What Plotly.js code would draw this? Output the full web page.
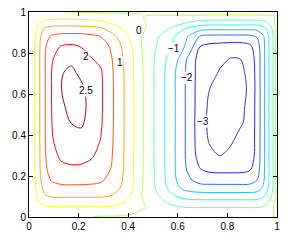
<!DOCTYPE html>
<html>
<head>
<meta charset="utf-8">
<script src="https://cdn.plot.ly/plotly-3.0.1.min.js"></script>
<style>html,body{margin:0;padding:0;background:#fff;}#chart{width:291px;height:242px;}</style>
</head>
<body>
<div id="chart"></div>
<script>
// grid coordinates
const xs = [0,0.02,0.04,0.065,0.09,0.13,0.17,0.21,0.25,0.29,0.33,0.37,0.41,0.45,0.49,0.53,0.57,0.61,0.65,0.69,0.73,0.77,0.81,0.85,0.89,0.92,0.945,0.965,0.985,1];
const ys = [0,0.02,0.045,0.075,0.105,0.14,0.18,0.23,0.3,0.38,0.46,0.54,0.62,0.7,0.77,0.83,0.88,0.92,0.95,0.975,1];
// field values (rows follow ys, columns follow xs)
const z = [
[0.02,0.02,0.02,0.02,0.02,0.02,0.02,0.02,0.02,-0.05,-0.05,-0.05,-0.05,-0.05, -0.02,-0.02,-0.02,-0.02,-0.02,-0.02,-0.02,-0.02,-0.02,-0.02,-0.02,-0.02,-0.02,-0.02,-0.02, 0.3],
[0.02,0.02,0.05,0.16,0.19,0.20,0.20,0.20,0.20,0.20,0.18,0.11,0.03,-0.03, -0.02,-0.02,-0.02,-0.08,-0.11,-0.12,-0.12,-0.12,-0.12,-0.12,-0.12,-0.115,-0.07,-0.02,-0.02, 0.3],
[0.02,0.02,0.25,0.40,0.44,0.45,0.45,0.45,0.45,0.45,0.42,0.33,0.14,0.02, -0.02,-0.14,-0.33,-0.44,-0.49,-0.49,-0.49,-0.49,-0.49,-0.49,-0.49,-0.49,-0.42,-0.27,-0.02, 0.3],
[0.02,0.15,0.48,0.71,0.77,0.78,0.78,0.78,0.78,0.78,0.73,0.60,0.35,0.02, -0.06,-0.37,-0.63,-0.78,-0.86,-0.87,-0.875,-0.875,-0.875,-0.875,-0.875,-0.86,-0.76,-0.54,-0.18, 0.3],
[0.02,0.27,0.67,0.97,1.08,1.09,1.09,1.09,1.09,1.08,1.01,0.82,0.49,0.02, -0.20,-0.57,-0.90,-1.14,-1.25,-1.28,-1.29,-1.29,-1.29,-1.29,-1.29,-1.26,-1.09,-0.79,-0.34, 0.3],
[0.02,0.34,0.79,1.16,1.34,1.385,1.39,1.39,1.38,1.35,1.22,0.98,0.59,0.07, -0.30,-0.72,-1.13,-1.49,-1.70,-1.78,-1.79,-1.79,-1.79,-1.79,-1.785,-1.72,-1.42,-0.98,-0.45, 0.3],
[0.02,0.37,0.86,1.29,1.53,1.63,1.65,1.64,1.62,1.56,1.35,1.07,0.64,0.10, -0.33,-0.77,-1.23,-1.67,-1.955,-2.18,-2.22,-2.23,-2.23,-2.23,-2.20,-1.99,-1.58,-1.06,-0.49, 0.3],
[0.02,0.39,0.90,1.40,1.71,1.88,1.92,1.91,1.86,1.75,1.49,1.13,0.66,0.11, -0.33,-0.79,-1.26,-1.74,-2.15,-2.48,-2.59,-2.61,-2.61,-2.60,-2.53,-2.20,-1.63,-1.08,-0.49, 0.3],
[0.02,0.40,0.91,1.46,1.84,2.08,2.14,2.14,2.05,1.89,1.56,1.15,0.67,0.12, -0.34,-0.79,-1.26,-1.75,-2.24,-2.70,-2.90,-3.01,-2.89,-2.70,-2.80,-2.30,-1.64,-1.08,-0.49, 0.3],
[0.02,0.40,0.92,1.49,1.94,2.25,2.30,2.35,2.20,1.99,1.60,1.16,0.68,0.12, -0.34,-0.79,-1.26,-1.75,-2.24,-2.78,-3.06,-3.13,-3.10,-2.88,-2.84,-2.31,-1.64,-1.08,-0.49, 0.3],
[0.02,0.40,0.92,1.49,1.98,2.30,2.51,2.57,2.32,2.05,1.62,1.16,0.68,0.12, -0.34,-0.79,-1.26,-1.75,-2.25,-2.80,-3.10,-3.21,-3.20,-3.07,-2.86,-2.32,-1.64,-1.08,-0.49, 0.3],
[0.02,0.40,0.92,1.49,1.99,2.38,2.70,2.67,2.33,2.07,1.62,1.16,0.68,0.12, -0.34,-0.79,-1.26,-1.75,-2.25,-2.76,-3.10,-3.22,-3.24,-3.14,-2.86,-2.32,-1.64,-1.08,-0.49, 0.3],
[0.02,0.40,0.92,1.49,1.99,2.49,2.73,2.61,2.30,2.07,1.62,1.16,0.68,0.12, -0.34,-0.79,-1.26,-1.75,-2.25,-2.76,-3.02,-3.18,-3.22,-3.16,-2.92,-2.32,-1.64,-1.08,-0.49, 0.3],
[0.02,0.40,0.92,1.49,1.99,2.47,2.61,2.41,2.30,2.05,1.61,1.15,0.67,0.11, -0.34,-0.79,-1.26,-1.74,-2.24,-2.74,-2.80,-3.07,-3.14,-3.11,-2.89,-2.31,-1.64,-1.08,-0.49, 0.3],
[0.02,0.40,0.92,1.49,1.94,2.25,2.40,2.30,2.02,1.92,1.56,1.11,0.64,0.09, -0.33,-0.78,-1.15,-1.60,-2.22,-2.71,-2.75,-2.87,-3.02,-3.01,-2.80,-2.30,-1.64,-1.08,-0.49, 0.3],
[0.02,0.40,0.91,1.45,1.81,2.04,2.09,1.99,1.90,1.80,1.45,1.03,0.57,0.04, -0.29,-0.65,-0.93,-1.30,-1.80,-2.51,-2.66,-2.70,-2.76,-2.76,-2.62,-2.23,-1.63,-1.08,-0.49, 0.3],
[0.02,0.38,0.87,1.31,1.56,1.67,1.69,1.68,1.62,1.49,1.20,0.84,0.42,0.02, -0.14,-0.56,-0.85,-1.20,-1.60,-2.05,-2.14,-2.15,-2.15,-2.15,-2.13,-1.96,-1.56,-1.05,-0.48, 0.3],
[0.02,0.29,0.71,1.05,1.17,1.19,1.19,1.18,1.14,1.05,0.82,0.52,0.15,0.02, -0.02,-0.16,-0.52,-0.85,-1.13,-1.31,-1.37,-1.375,-1.375,-1.375,-1.37,-1.35,-1.16,-0.83,-0.36, 0.3],
[0.02,0.12,0.44,0.65,0.71,0.72,0.72,0.71,0.68,0.61,0.43,0.17,0.02,0.02, -0.02,-0.02,-0.03,-0.30,-0.52,-0.67,-0.71,-0.71,-0.71,-0.71,-0.71,-0.70,-0.62,-0.43,-0.10, 0.3],
[0.02,0.02,0.16,0.30,0.33,0.34,0.34,0.33,0.31,0.24,0.09,0.06,0.06,0.06, -0.15,-0.15,-0.15,-0.15,-0.15,-0.18,-0.21,-0.21,-0.21,-0.21,-0.21,-0.21,-0.16,-0.15,-0.15, 0.3],
[0.02,0.02,0.02,0.02,0.02,0.02,-0.02,-0.02,-0.02,-0.02,-0.02,-0.02,-0.02,-0.02, 0.25,0.25,0.25,0.25,0.25,0.25,0.25,0.25,0.25,0.25,0.25,0.25,0.25,0.25,0.25, 0.3]
];
// contour levels and inline labels
const levelStart = -3, levelEnd = 2.5, levelStep = 0.5;
const labelTexts = ['0', '1', '2', '2.5', '\u22121', '\u22122', '\u22123'];
const labelPos = [[0.445, 0.912], [0.368, 0.756], [0.231, 0.785], [0.228, 0.616], [0.583, 0.824], [0.636, 0.679], [0.703, 0.466]];
const tickVals = [0, 0.2, 0.4, 0.6, 0.8, 1];
const tickText = ['0', '0.2', '0.4', '0.6', '0.8', '1'];

// one colour per level, -3 ... 2.5 (jet-like)
const levelColors = ['rgb(55,55,208)','rgb(38,38,255)','rgb(38,112,255)','rgb(38,184,255)','rgb(30,255,250)','rgb(100,255,170)',
  'rgb(180,255,90)','rgb(255,248,20)','rgb(255,168,20)','rgb(255,85,20)','rgb(240,10,10)','rgb(160,10,10)'];
const cscale = levelColors.map((c, i) => [i / (levelColors.length - 1), c]);

const trace = {
  type: 'contour', x: xs, y: ys, z: z,
  autocontour: false,
  contours: {start: levelStart, end: levelEnd, size: levelStep, coloring: 'lines', showlabels: false},
  line: {width: 1, smoothing: 1},
  colorscale: cscale, showscale: false, hoverinfo: 'skip'
};
const fontFam = '"Liberation Sans", Arial, Helvetica, sans-serif';
const axisCommon = {
  range: [0, 1], tickvals: tickVals, ticktext: tickText, ticks: 'inside', ticklen: 4, tickwidth: 1,
  tickcolor: '#000', showline: true, linecolor: '#000', linewidth: 1, mirror: 'ticks',
  showgrid: false, zeroline: false, tickfont: {family: fontFam, size: 10, color: '#000'}, fixedrange: true
};
const annotations = labelTexts.map((t, i) => ({
  x: labelPos[i][0], y: labelPos[i][1], xref: 'x', yref: 'y', text: t, showarrow: false,
  font: {family: fontFam, size: 10, color: '#000'}, bgcolor: '#fff', borderpad: 0,
  xanchor: 'center', yanchor: 'middle'
}));
const layout = {
  width: 291, height: 242, margin: {l: 29, r: 14, t: 12, b: 25},
  paper_bgcolor: '#fff', plot_bgcolor: '#fff', showlegend: false,
  xaxis: Object.assign({}, axisCommon), yaxis: Object.assign({}, axisCommon),
  annotations: annotations
};
Plotly.newPlot('chart', [trace], layout, {staticPlot: true, displayModeBar: false});
</script>
</body>
</html>
